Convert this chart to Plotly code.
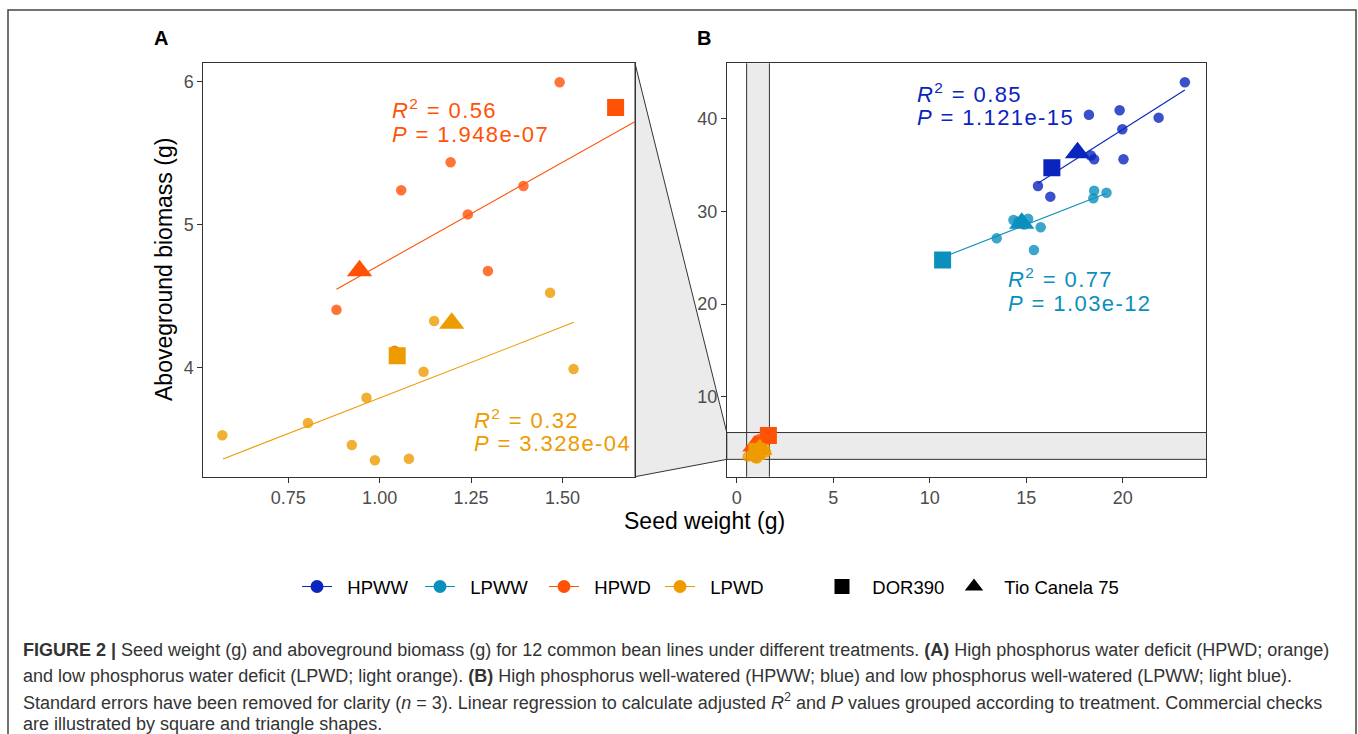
import plotly.graph_objects as go

W, H = 1358, 734

treatments = ["HPWW", "LPWW", "HPWD", "LPWD"]
colors = {"HPWW": "#0A24BE", "LPWW": "#0B8FBD", "HPWD": "#FF5206", "LPWD": "#EE9B00"}

# Breeding lines (circles): seed weight (g) and aboveground biomass (g)
hpww_seed = [23.22, 18.25, 19.84, 21.86, 19.98, 18.35, 18.52, 20.04, 15.61, 16.25]
hpww_bio = [43.95, 40.45, 40.93, 40.13, 38.88, 36.05, 35.64, 35.64, 32.75, 31.60]
lpww_seed = [18.52, 19.16, 18.48, 15.75, 15.40, 13.47, 14.34, 15.10, 14.60, 14.90]
lpww_bio = [32.25, 32.03, 31.43, 28.29, 25.84, 27.10, 29.08, 29.22, 28.90, 28.60]
hpwd_seed = [1.492, 1.194, 1.059, 1.241, 1.393, 1.296, 0.882, 1.041]
hpwd_bio = [5.996, 5.436, 5.240, 5.071, 5.270, 4.674, 4.403, 4.116]
lpwd_seed = [0.570, 0.804, 0.924, 0.987, 1.080, 0.964, 1.120, 1.149, 1.466, 1.530]
lpwd_bio = [3.524, 3.610, 3.456, 3.349, 3.360, 3.787, 3.969, 4.324, 4.522, 3.988]

# Commercial checks, in the order of check_names
check_names = ["DOR390", "Tio Canela 75"]
check_symbols = ["square", "triangle-up"]
hpww_check_seed = [16.33, 17.66]
hpww_check_bio = [34.73, 36.35]
lpww_check_seed = [10.67, 14.77]
lpww_check_bio = [24.76, 28.73]
hpwd_check_seed = [1.645, 0.945]
hpwd_check_bio = [5.820, 4.676]
lpwd_check_seed = [1.048, 1.197]
lpwd_check_bio = [4.081, 4.308]

# Linear fits per treatment
fit_slope = {"HPWW": 1.323, "LPWW": 0.815, "HPWD": 1.44, "LPWD": 0.998}
fit_intercept = {"HPWW": 12.40, "LPWW": 16.35, "HPWD": 3.276, "LPWD": 2.787}
fit_xrange = {"HPWW": [15.61, 23.22], "LPWW": [10.67, 19.16],
              "HPWD": [0.882, 1.70], "LPWD": [0.572, 1.531]}
stat_r2 = {"HPWW": "0.85", "LPWW": "0.77", "HPWD": "0.56", "LPWD": "0.32"}
stat_p = {"HPWW": "1.121e-15", "LPWW": "1.03e-12", "HPWD": "1.948e-07", "LPWD": "3.328e-04"}
# label anchor (x, y of first line, y of second line) and panel
stat_pos = {"HPWW": (9.24, 42.83, 40.13, "B"), "LPWW": (13.93, 22.79, 20.09, "B"),
            "HPWD": (1.027, 5.807, 5.632, "A"), "LPWD": (1.252, 3.641, 3.466, "A")}

circles = {"HPWW": (hpww_seed, hpww_bio), "LPWW": (lpww_seed, lpww_bio),
           "HPWD": (hpwd_seed, hpwd_bio), "LPWD": (lpwd_seed, lpwd_bio)}
checks = {"HPWW": (hpww_check_seed, hpww_check_bio), "LPWW": (lpww_check_seed, lpww_check_bio),
          "HPWD": (hpwd_check_seed, hpwd_check_bio), "LPWD": (lpwd_check_seed, lpwd_check_bio)}

# Axis ranges: panel A zooms on the water-deficit data, panel B shows everything
xA_range = [0.518, 1.698]
yA_range = [3.234, 6.129]
xB_range = [-0.51, 24.33]
yB_range = [1.36, 46.0]
xA_ticks = [0.75, 1.00, 1.25, 1.50]
yA_ticks = [4, 5, 6]
xB_ticks = [0, 5, 10, 15, 20]
yB_ticks = [10, 20, 30, 40]

domA = [203.3 / W, 635.0 / W]
domB = [726.8 / W, 1206.3 / W]
domY = [1 - 476.7 / H, 1 - 63.3 / H]

FONT = "Liberation Sans, Arial, sans-serif"
fig = go.Figure()

panels = {"A": ("x", "y"), "B": ("x2", "y2")}
for pname, (xa, ya) in panels.items():
    for t in treatments:
        xs, ys = circles[t]
        fig.add_trace(go.Scatter(x=xs, y=ys, mode="markers", xaxis=xa, yaxis=ya,
                                 marker=dict(size=10.5, color=colors[t], opacity=0.8),
                                 showlegend=False, hoverinfo="skip"))
    for t in treatments:
        x0, x1 = fit_xrange[t]
        fx = [x0, x1]
        fy = [fit_intercept[t] + fit_slope[t] * v for v in fx]
        fig.add_trace(go.Scatter(x=fx, y=fy, mode="lines", xaxis=xa, yaxis=ya,
                                 line=dict(color=colors[t], width=1.1),
                                 showlegend=False, hoverinfo="skip"))
    for t in treatments:
        xs, ys = checks[t]
        for i, sym in enumerate(check_symbols):
            fig.add_trace(go.Scatter(x=[xs[i]], y=[ys[i]], mode="markers", xaxis=xa, yaxis=ya,
                                     marker=dict(size=17 if sym == "square" else 22,
                                                 symbol=sym, color=colors[t]),
                                     showlegend=False, hoverinfo="skip"))

# Legend entries, one legend box each so they sit on a single row
legend_x = [297, 420, 544, 660, 822, 954]
for i, t in enumerate(treatments):
    fig.add_trace(go.Scatter(x=[None], y=[None], mode="lines+markers", name="\u00a0\u00a0" + t,
                             line=dict(color=colors[t], width=1),
                             marker=dict(size=13, color=colors[t]),
                             legend="legend" if i == 0 else f"legend{i + 1}"))
for j, (nm, sym) in enumerate(zip(check_names, check_symbols)):
    fig.add_trace(go.Scatter(x=[None], y=[None], mode="markers", name="\u00a0\u00a0" + nm,
                             marker=dict(size=15 if sym == "square" else 18, symbol=sym, color="black"),
                             legend=f"legend{len(treatments) + j + 1}"))

legend_common = dict(orientation="h", yanchor="middle", xanchor="left", y=1 - 587 / H,
                     bgcolor="rgba(0,0,0,0)", borderwidth=0,
                     font=dict(family=FONT, size=18.5, color="black"), itemwidth=30)
layout_legends = {}
for k, lx in enumerate(legend_x):
    key = "legend" if k == 0 else f"legend{k + 1}"
    layout_legends[key] = dict(legend_common, x=lx / W)

axis_common = dict(showgrid=False, zeroline=False, showline=True, mirror=True,
                   linecolor="#333333", linewidth=1, ticks="outside", ticklen=5,
                   tickcolor="#333333", tickwidth=1,
                   tickfont=dict(family=FONT, size=18, color="#4D4D4D"))

fig.update_layout(
    width=W, height=H, margin=dict(l=0, r=0, t=0, b=0),
    paper_bgcolor="white", plot_bgcolor="white",
    xaxis=dict(axis_common, domain=domA, range=xA_range, tickvals=xA_ticks, tickformat=".2f", anchor="y"),
    yaxis=dict(axis_common, domain=domY, range=yA_range, tickvals=yA_ticks, anchor="x"),
    xaxis2=dict(axis_common, domain=domB, range=xB_range, tickvals=xB_ticks, anchor="y2"),
    yaxis2=dict(axis_common, domain=domY, range=yB_range, tickvals=yB_ticks, anchor="x2"),
    **layout_legends,
)

# Zoom window highlighted in panel B and the connector to panel A
band_fill = "#EBEBEB"
band_line = dict(color="#333333", width=1)
shapes = [
    dict(type="rect", xref="x2", yref="y2 domain", x0=xA_range[0], x1=xA_range[1], y0=0, y1=1,
         fillcolor=band_fill, line=dict(width=0), layer="below"),
    dict(type="rect", xref="x2 domain", yref="y2", x0=0, x1=1, y0=yA_range[0], y1=yA_range[1],
         fillcolor=band_fill, line=dict(width=0), layer="below"),
]
for xv in xA_range:
    shapes.append(dict(type="line", xref="x2", yref="y2 domain", x0=xv, x1=xv, y0=0, y1=1,
                       line=band_line, layer="below"))
for yv in yA_range:
    shapes.append(dict(type="line", xref="x2 domain", yref="y2", x0=0, x1=1, y0=yv, y1=yv,
                       line=band_line, layer="below"))


def yB_paper(v):
    return domY[0] + (v - yB_range[0]) / (yB_range[1] - yB_range[0]) * (domY[1] - domY[0])


trap = (f"M {domA[1]},{domY[1]} L {domB[0]},{yB_paper(yA_range[1])} "
        f"L {domB[0]},{yB_paper(yA_range[0])} L {domA[1]},{domY[0]} Z")
shapes.append(dict(type="path", xref="paper", yref="paper", path=trap,
                   fillcolor=band_fill, line=band_line, layer="below"))
# outer figure frame
shapes.append(dict(type="rect", xref="paper", yref="paper", x0=8 / W, x1=1356 / W,
                   y0=-0.1, y1=1 - 10 / H, line=dict(color="#444444", width=1.5),
                   fillcolor="rgba(0,0,0,0)"))
fig.update_layout(shapes=shapes)

SPACED = "letter-spacing:1.4px"
annotations = []
for t in treatments:
    sx, sy1, sy2, pn = stat_pos[t]
    xr, yr = ("x", "y") if pn == "A" else ("x2", "y2")
    f = dict(family=FONT, size=22, color=colors[t])
    annotations.append(dict(x=sx, y=sy1, xref=xr, yref=yr, xanchor="left", yanchor="middle",
                            text=f'<span style="{SPACED}"><i>R</i><sup>2</sup> = {stat_r2[t]}</span>',
                            showarrow=False, font=f))
    annotations.append(dict(x=sx, y=sy2, xref=xr, yref=yr, xanchor="left", yanchor="middle",
                            text=f'<span style="{SPACED}"><i>P</i> = {stat_p[t]}</span>',
                            showarrow=False, font=f))

annotations += [
    dict(x=161 / W, y=1 - 38 / H, xref="paper", yref="paper", text="<b>A</b>", showarrow=False,
         xanchor="center", yanchor="middle", font=dict(family=FONT, size=20, color="black")),
    dict(x=704 / W, y=1 - 38 / H, xref="paper", yref="paper", text="<b>B</b>", showarrow=False,
         xanchor="center", yanchor="middle", font=dict(family=FONT, size=20, color="black")),
    dict(x=704 / W, y=1 - 521 / H, xref="paper", yref="paper", text="Seed weight (g)",
         xanchor="center", yanchor="middle", showarrow=False,
         font=dict(family=FONT, size=23, color="black")),
    dict(x=164 / W, y=(domY[0] + domY[1]) / 2, xref="paper", yref="paper",
         text="Aboveground biomass (g)", textangle=-90, showarrow=False,
         xanchor="center", yanchor="middle", font=dict(family=FONT, size=23, color="black")),
]

caption_lines = [
    "<b>FIGURE 2 |</b> Seed weight (g) and aboveground biomass (g) for 12 common bean lines under "
    "different treatments. <b>(A)</b> High phosphorus water deficit (HPWD; orange)",
    "and low phosphorus water deficit (LPWD; light orange). <b>(B)</b> High phosphorus well-watered "
    "(HPWW; blue) and low phosphorus well-watered (LPWW; light blue).",
    "Standard errors have been removed for clarity (<i>n</i> = 3). Linear regression to calculate "
    "adjusted <i>R</i><sup>2</sup> and <i>P</i> values grouped according to treatment. Commercial checks",
    "are illustrated by square and triangle shapes.",
]
caption_y = [650, 676, 701, 724]
for line, cy in zip(caption_lines, caption_y):
    annotations.append(dict(x=21 / W, y=1 - cy / H, xref="paper", yref="paper", xanchor="left",
                            yanchor="middle", text=line, showarrow=False, align="left",
                            font=dict(family=FONT, size=18, color="#333333")))

fig.update_layout(annotations=annotations)
fig.write_html("out.html")
